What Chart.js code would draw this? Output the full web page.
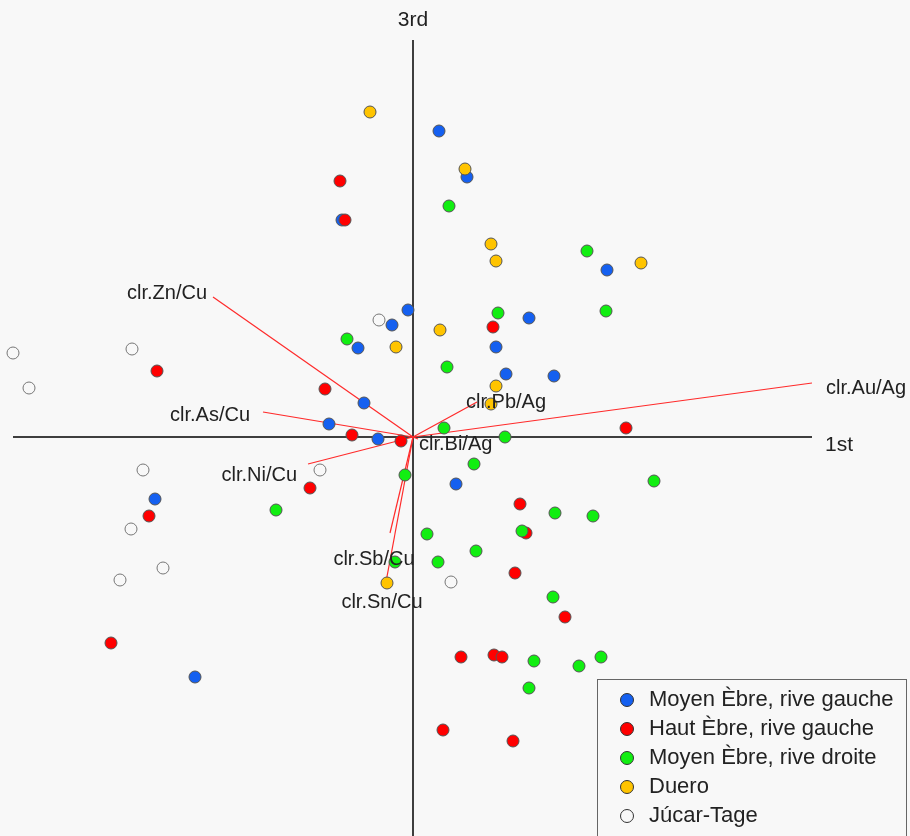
<!DOCTYPE html>
<html>
<head>
<meta charset="utf-8">
<script src="https://cdn.jsdelivr.net/npm/chart.js@4.4.0/dist/chart.umd.min.js"></script>
<style>
  html, body { margin: 0; padding: 0; background: #f8f8f8; }
  #wrap { width: 910px; height: 836px; }
</style>
</head>
<body>
<div id="wrap"><canvas id="biplot"></canvas></div>
<script>
// Group names (legend order)
const groupNames = [
    'Moyen Èbre, rive gauche',
    'Haut Èbre, rive gauche',
    'Moyen Èbre, rive droite',
    'Duero',
    'Júcar-Tage'
];

// Scores on 1st / 3rd components, one pair of arrays per group
const blueX = [0.26, 0.54, 1.94, -0.05, 1.16, 0.83, 0.93, 1.41, -0.71, -0.21, -0.55, -0.49, -0.84, -0.35, -2.58, -2.18, 0.43];
const blueY = [3.06, 2.60, 1.67, 1.27, 1.19, 0.90, 0.63, 0.61, 2.17, 1.12, 0.89, 0.34, 0.13, -0.02, -0.62, -2.40, -0.47];

const redX = [-0.73, -0.68, -2.56, -0.88, -0.61, -0.12, 0.80, 2.13, -1.03, -2.64, -3.02, 1.07, 1.13, 1.02, 1.52, 0.48, 0.81, 0.89, 0.30, 1.00];
const redY = [2.56, 2.17, 0.66, 0.48, 0.02, -0.04, 1.10, 0.09, -0.51, -0.79, -2.06, -0.67, -0.96, -1.36, -1.80, -2.20, -2.18, -2.20, -2.93, -3.04];

const greenX = [0.36, 1.74, 0.85, 1.93, 0.34, 0.31, 0.92, -0.66, -1.37, -0.08, -0.18, 0.61, 2.41, 1.42, 1.80, 1.09, 0.14, 0.63, 0.25, 1.40, 1.21, 1.66, 1.88, 1.16];
const greenY = [2.31, 1.86, 1.24, 1.26, 0.70, 0.09, 0.00, 0.98, -0.73, -0.38, -1.25, -0.27, -0.44, -0.76, -0.79, -0.94, -0.97, -1.14, -1.25, -1.60, -2.24, -2.29, -2.20, -2.51];

const yellowX = [-0.43, -0.17, 0.52, 0.78, 0.83, 2.28, 0.27, 0.83, 0.78, -0.26];
const yellowY = [3.25, 0.90, 2.68, 1.93, 1.76, 1.74, 1.07, 0.51, 0.33, -1.46];

const whiteX = [-0.34, -4.00, -2.81, -3.84, -2.70, -0.93, -2.82, -2.50, -2.93, 0.38];
const whiteY = [1.17, 0.84, 0.88, 0.49, -0.33, -0.33, -0.92, -1.31, -1.43, -1.45];

// Loadings (arrow tips)
const varNames = ['clr.Zn/Cu', 'clr.As/Cu', 'clr.Ni/Cu', 'clr.Sb/Cu', 'clr.Sn/Cu', 'clr.Pb/Ag', 'clr.Bi/Ag', 'clr.Au/Ag'];
const varX = [-2.00, -1.50, -1.05, -0.23, -0.27, 0.64, 0.05, 3.99];
const varY = [1.40, 0.25, -0.27, -0.96, -1.45, 0.35, -0.02, 0.54];

// Axis extents and titles
const axisXRange = [-4.00, 3.99];
const axisYRange = [-4.00, 3.97];
const axisTitles = ['1st', '3rd'];

// Marker colours per group
const groupColors = ['#1560f0', '#ff0000', '#11ee11', '#ffc400', '#f8f8f8'];

// Label placement (pixel offsets from arrow tip, text alignment)
const labelLayout = [
    { dx: -6, dy: -4, align: 'right' },
    { dx: -13, dy: 3, align: 'right' },
    { dx: -11, dy: 11, align: 'right' },
    { dx: -16, dy: 26, align: 'center' },
    { dx: -4, dy: 20, align: 'center' },
    { dx: -11, dy: 0, align: 'left' },
    { dx: 1, dy: 5, align: 'left' },
    { dx: 14, dy: 5, align: 'left' }
];

const LABEL_FONT = '20px "Liberation Sans", Arial, sans-serif';
const TITLE_FONT = '21px "Liberation Sans", Arial, sans-serif';
const LEGEND_FONT = '22px "Liberation Sans", Arial, sans-serif';

function toPoints(xs, ys) {
    return xs.map((x, i) => ({ x: x, y: ys[i] }));
}

// Build datasets
const groupXs = [blueX, redX, greenX, yellowX, whiteX];
const groupYs = [blueY, redY, greenY, yellowY, whiteY];

const datasets = [];

// axes
datasets.push({
    type: 'line',
    data: [{ x: axisXRange[0], y: 0 }, { x: axisXRange[1], y: 0 }],
    borderColor: '#000', borderWidth: 1.5, pointRadius: 0, showLine: true, fill: false, order: 10
});
datasets.push({
    type: 'line',
    data: [{ x: 0, y: axisYRange[0] }, { x: 0, y: axisYRange[1] }],
    borderColor: '#000', borderWidth: 1.5, pointRadius: 0, showLine: true, fill: false, order: 10
});

// loading vectors
varNames.forEach((name, i) => {
    datasets.push({
        type: 'line',
        data: [{ x: 0, y: 0 }, { x: varX[i], y: varY[i] }],
        borderColor: '#ff2a2a', borderWidth: 1.2, pointRadius: 0, showLine: true, fill: false, order: 9
    });
});

// group scores
groupNames.forEach((name, g) => {
    datasets.push({
        type: 'scatter',
        label: name,
        isGroup: true,
        data: toPoints(groupXs[g], groupYs[g]),
        backgroundColor: groupColors[g],
        borderColor: g === 4 ? '#777' : '#555',
        borderWidth: 1,
        pointRadius: 6,
        order: 5 - g
    });
});

// Background + text plugin
const annotatePlugin = {
    id: 'annotate',
    beforeDraw(chart) {
        const ctx = chart.ctx;
        ctx.save();
        ctx.fillStyle = '#f8f8f8';
        ctx.fillRect(0, 0, chart.width, chart.height);
        ctx.restore();
    },
    afterDatasetsDraw(chart) {
        const ctx = chart.ctx;
        const xs = chart.scales.x, ys = chart.scales.y;
        ctx.save();
        ctx.fillStyle = '#222';
        ctx.textBaseline = 'middle';

        // vector labels
        ctx.font = LABEL_FONT;
        varNames.forEach((name, i) => {
            const lay = labelLayout[i];
            ctx.textAlign = lay.align;
            ctx.fillText(name, xs.getPixelForValue(varX[i]) + lay.dx, ys.getPixelForValue(varY[i]) + lay.dy);
        });

        // axis titles
        ctx.font = TITLE_FONT;
        ctx.textAlign = 'left';
        ctx.fillText(axisTitles[0], xs.getPixelForValue(axisXRange[1]) + 13, ys.getPixelForValue(0) + 8);
        ctx.textAlign = 'center';
        ctx.fillText(axisTitles[1], xs.getPixelForValue(0), ys.getPixelForValue(axisYRange[1]) - 20);

        // legend box
        const lx = 597, ly = 679, lw = 309, rowH = 29;
        ctx.strokeStyle = '#666';
        ctx.lineWidth = 1;
        ctx.strokeRect(lx + 0.5, ly + 0.5, lw, chart.height);
        ctx.font = LEGEND_FONT;
        ctx.textAlign = 'left';
        chart.data.datasets.filter(d => d.isGroup).forEach((d, i) => {
            const cy = ly + 21 + i * rowH;
            ctx.beginPath();
            ctx.arc(lx + 30, cy, 6.5, 0, Math.PI * 2);
            ctx.fillStyle = d.backgroundColor;
            ctx.fill();
            ctx.strokeStyle = '#333';
            ctx.stroke();
            ctx.fillStyle = '#222';
            ctx.fillText(d.label, lx + 52, cy);
        });
        ctx.restore();
    }
};

new Chart(document.getElementById('biplot'), {
    type: 'scatter',
    data: { datasets: datasets },
    options: {
        responsive: true,
        maintainAspectRatio: false,
        animation: false,
        layout: { padding: 0, autoPadding: false },
        elements: { line: { tension: 0 } },
        datasets: { scatter: { clip: false }, line: { clip: false } },
        plugins: {
            legend: { display: false },
            tooltip: { enabled: false }
        },
        scales: {
            x: { type: 'linear', min: -4.13, max: 4.97, display: false },
            y: { type: 'linear', min: -3.99, max: 4.37, display: false }
        }
    },
    plugins: [annotatePlugin]
});
</script>
</body>
</html>
